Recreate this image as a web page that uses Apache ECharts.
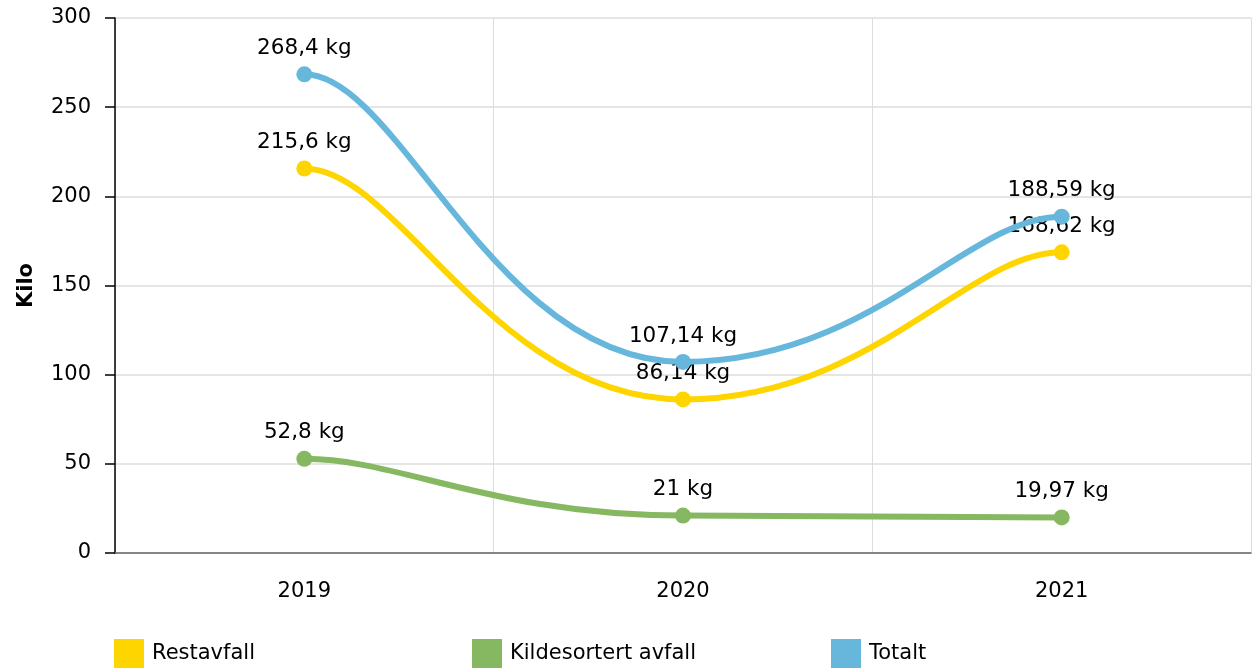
<!DOCTYPE html>
<html><head><meta charset="utf-8">
<script src="https://cdn.jsdelivr.net/npm/echarts@6/dist/echarts.min.js"></script>
<style>html,body{margin:0;padding:0;background:#fff}#c{width:1253px;height:668px}</style>
</head><body><div id="c"></div>
<script>
const categories = ['2019', '2020', '2021'];
const restavfall = [215.6, 86.14, 168.62];
const kildesortert = [52.8, 21, 19.97];
const totalt = [268.4, 107.14, 188.59];
const seriesNames = ['Restavfall', 'Kildesortert avfall', 'Totalt'];
const colors = ['#FFD500', '#86B861', '#67B7DC'];

const font = 'DejaVu Sans, Verdana, sans-serif';
const fmt = v => String(v).replace('.', ',') + ' kg';
const TENSION = 0.25;

// smooth curve (horizontal control points) drawn through the axis scales
function curve(name, data, color, z) {
  const n = data.length;
  return {
    name: name + '_curve', type: 'custom', z, silent: true,
    data: data.map((v, i) => [i, v]),
    renderItem: (params, api) => {
      const i = params.dataIndex;
      if (i >= n - 1) return { type: 'group', children: [] };
      const p0 = api.coord([i, data[i]]);
      const p3 = api.coord([i + 1, data[i + 1]]);
      const prev = i > 0 ? api.coord([i - 1, data[i - 1]]) : p0;
      const next = i + 2 < n ? api.coord([i + 2, data[i + 2]]) : p3;
      return {
        type: 'bezierCurve',
        shape: {
          x1: p0[0], y1: p0[1], x2: p3[0], y2: p3[1],
          cpx1: p0[0] + TENSION * (p3[0] - prev[0]), cpy1: p0[1],
          cpx2: p3[0] - TENSION * (next[0] - p0[0]), cpy2: p3[1]
        },
        style: { stroke: color, lineWidth: 6, fill: null, lineCap: 'round' }
      };
    }
  };
}
function pts(name, data, color, z) {
  return {
    name, type: 'line', data, z,
    symbol: 'circle', symbolSize: 16,
    lineStyle: { width: 0, color },
    itemStyle: { color },
    label: { show: true, position: 'top', distance: 7, fontFamily: font, fontSize: 21.5, color: '#000',
      formatter: p => fmt(p.value) }
  };
}
const chart = echarts.init(document.getElementById('c'));
const legendBase = (name, left) => ({
  data: [name], left, top: 639, itemWidth: 30, itemHeight: 30, itemGap: 0,
  icon: 'rect', textStyle: { fontFamily: font, fontSize: 21, color: '#000', padding: [0,0,0,3] },
  selectedMode: false, padding: 0
});
chart.setOption({
  animation: false,
  textStyle: { fontFamily: font },
  color: colors,
  grid: { left: 115, right: 2, top: 18, bottom: 115 },
  legend: [legendBase(seriesNames[0], 114), legendBase(seriesNames[1], 472), legendBase(seriesNames[2], 831)],
  xAxis: {
    type: 'category', data: categories, boundaryGap: true,
    axisLine: { lineStyle: { color: '#666', width: 1.5 } },
    axisTick: { alignWithLabel: true, length: 9, lineStyle: { color: '#bbb', width: 1.5 } },
    axisLabel: { fontFamily: font, fontSize: 21, color: '#000', margin: 28 },
    splitLine: { show: true, interval: 0, lineStyle: { color: '#ddd' } }
  },
  yAxis: {
    type: 'value', min: 0, max: 300, interval: 50,
    name: 'Kilo', nameLocation: 'middle', nameGap: 78,
    nameTextStyle: { fontFamily: font, fontSize: 21, fontWeight: 'bold', color: '#000' },
    axisLine: { show: true, lineStyle: { color: '#000', width: 1.5 } },
    axisTick: { show: true, length: 10, lineStyle: { color: '#000', width: 1.5 } },
    axisLabel: { fontFamily: font, fontSize: 21, color: '#000', margin: 24 },
    splitLine: { lineStyle: { color: '#ddd', width: 1.5 } }
  },
  series: [
    curve(seriesNames[1], kildesortert, colors[1], 1),
    pts(seriesNames[1], kildesortert, colors[1], 2),
    curve(seriesNames[0], restavfall, colors[0], 3),
    pts(seriesNames[0], restavfall, colors[0], 4),
    curve(seriesNames[2], totalt, colors[2], 5),
    pts(seriesNames[2], totalt, colors[2], 6)
  ]
});
</script></body></html>
